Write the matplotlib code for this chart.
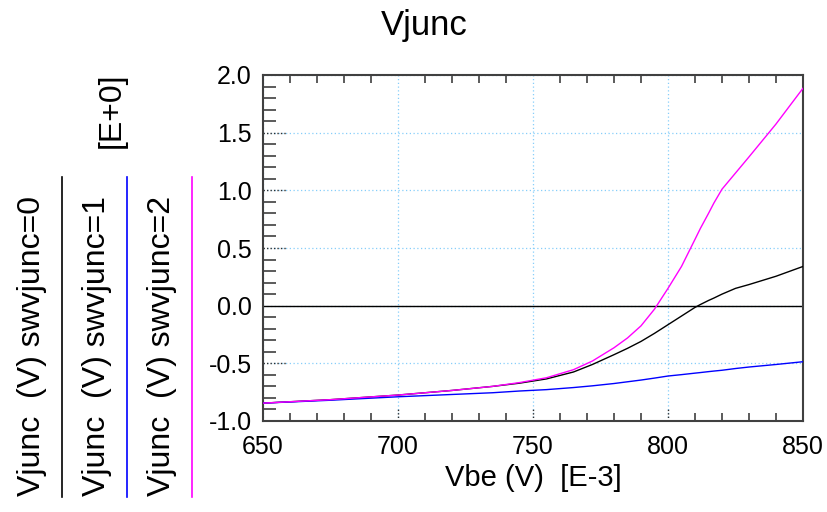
import matplotlib
matplotlib.use("Agg")
import matplotlib.pyplot as plt
from matplotlib.lines import Line2D
from matplotlib.ticker import MultipleLocator

plt.rcParams["font.family"] = ["Liberation Sans", "DejaVu Sans"]

# Vbe sweep (mV) and junction voltage for each swvjunc setting
vbe = [650, 675, 700, 720, 735, 745, 755, 765, 772, 780, 785,
       790, 795, 800, 805, 810, 812, 815, 817, 820, 825, 830, 840, 850]
vjunc_sw0 = [-0.845, -0.815, -0.775, -0.735, -0.700, -0.672, -0.635, -0.575, -0.510, -0.425, -0.370,
             -0.310, -0.240, -0.165, -0.090, -0.015, 0.010, 0.045, 0.066, 0.100, 0.150, 0.183, 0.255, 0.340]
vjunc_sw1 = [-0.845, -0.820, -0.790, -0.770, -0.755, -0.740, -0.728, -0.710, -0.695, -0.675, -0.660,
             -0.645, -0.628, -0.610, -0.598, -0.585, -0.580, -0.572, -0.567, -0.560, -0.545, -0.532, -0.510, -0.486]
vjunc_sw2 = [-0.845, -0.815, -0.775, -0.735, -0.700, -0.667, -0.625, -0.555, -0.480, -0.365, -0.280,
             -0.175, -0.030, 0.150, 0.340, 0.575, 0.670, 0.800, 0.890, 1.010, 1.150, 1.290, 1.575, 1.885]

series = [
    ("Vjunc  (V) swvjunc=0", vjunc_sw0, "black"),
    ("Vjunc  (V) swvjunc=1", vjunc_sw1, "#0000ff"),
    ("Vjunc  (V) swvjunc=2", vjunc_sw2, "#ff00ff"),
]

W, H = 828, 512
fig = plt.figure(figsize=(W / 100, H / 100), dpi=100)
ax = fig.add_axes([263 / W, 1 - 421 / H, 540 / W, 346 / H])

for label, vals, col in series:
    ax.plot(vbe, vals, color=col, lw=1.0, zorder=3)

ax.axhline(0, color="black", lw=1.0, zorder=2)

ax.set_xlim(650, 850)
ax.set_ylim(-1.0, 2.0)
ax.xaxis.set_major_locator(MultipleLocator(50))
ax.xaxis.set_minor_locator(MultipleLocator(10))
ax.yaxis.set_major_locator(MultipleLocator(0.5))
ax.yaxis.set_minor_locator(MultipleLocator(0.1))
ax.yaxis.set_major_formatter(plt.FuncFormatter(lambda v, p: f"{v:.1f}"))

ax.grid(True, which="major", color="#87cefa", ls=(0, (1, 2)), lw=0.9, zorder=1)
ax.tick_params(which="major", length=0, labelsize=18, pad=8)
ax.tick_params(axis="x", which="major", pad=10)
ax.tick_params(axis="y", which="minor", direction="in", length=9, width=1.2,
               color="#404040", left=True, right=False)
ax.tick_params(axis="x", which="minor", direction="in", length=6, width=1.2,
               color="#404040", top=True, bottom=True)

# dark dotted stubs where major gridlines meet the frame
for yv in [-0.5, 0.5, 1.0, 1.5]:
    ax.plot([0, 0.045], [yv, yv], color="#303030", ls=(0, (1, 1.5)), lw=1.0,
            transform=ax.get_yaxis_transform(), zorder=2)
for xv in [700, 750, 800]:
    ax.plot([xv, xv], [0, 0.035], color="#303030", ls=(0, (1, 1.5)), lw=1.0,
            transform=ax.get_xaxis_transform(), zorder=2)

for sp in ax.spines.values():
    sp.set_color("#404040")
    sp.set_linewidth(1.5)

ax.set_xlabel("Vbe (V)  [E-3]", fontsize=21, labelpad=4)

fig.text(424 / W, 1 - 25 / H, "Vjunc", ha="center", va="center", fontsize=25)

# stacked legend-style y labels on the left
xs = [32, 97, 162]
for (label, vals, col), xc in zip(series, xs):
    fig.text(xc / W, 1 - 496 / H, label, rotation=90, ha="center", va="bottom",
             fontsize=23)
    fig.add_artist(Line2D([(xc + 30) / W] * 2, [1 - 497 / H, 1 - 177 / H],
                          color=col, lw=1.2))
fig.text(112 / W, 1 - 73 / H, "[E+0]", rotation=90, ha="center", va="top",
         fontsize=23)

fig.savefig("out.png", dpi=100, facecolor="white")
